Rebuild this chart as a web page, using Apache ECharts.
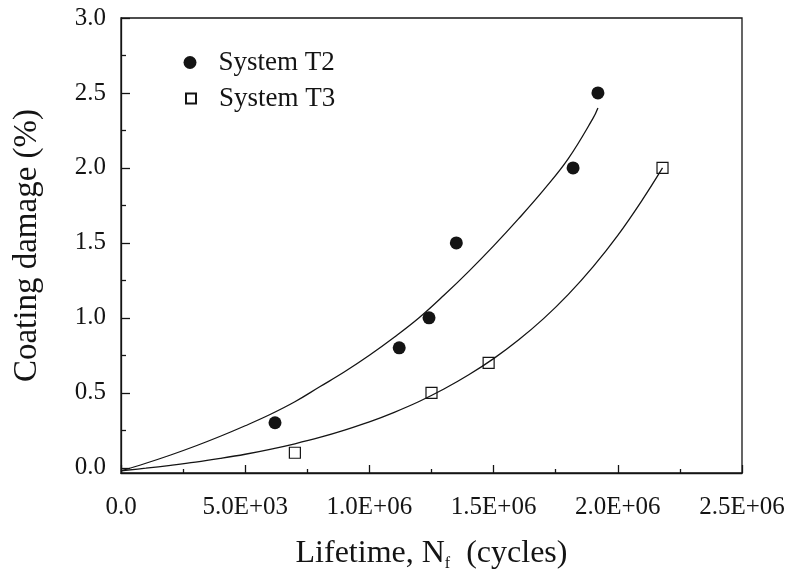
<!DOCTYPE html>
<html>
<head>
<meta charset="utf-8">
<script src="https://cdn.jsdelivr.net/npm/echarts@6/dist/echarts.min.js"></script>
<style>
  html, body { margin: 0; padding: 0; background: #ffffff; }
  #chart { width: 790px; height: 586px; }
</style>
</head>
<body>
<div id="chart"></div>
<script>
// Measured coating damage (%) against lifetime (cycles)
const t2Lifetime = [620000, 1120000, 1240000, 1350000, 1820000, 1920000];
const t2Damage   = [0.3, 0.8, 1.0, 1.5, 2.0, 2.5];
const t3Lifetime = [700000, 1250000, 1480000, 2180000];
const t3Damage   = [0.1, 0.5, 0.7, 2.0];

// Trend curves traced along each system
const t2CurveX = [0, 100000, 200000, 300000, 400000, 500000, 600000, 700000, 800000, 900000,
                  1000000, 1100000, 1200000, 1300000, 1400000, 1500000, 1600000, 1700000, 1800000, 1900000, 1920000];
const t2CurveY = [-0.02, 0.03, 0.085, 0.145, 0.21, 0.28, 0.355, 0.44, 0.54, 0.64,
                  0.75, 0.87, 1.00, 1.15, 1.31, 1.48, 1.66, 1.85, 2.06, 2.33, 2.40];
const t3CurveX = [0, 100000, 200000, 300000, 400000, 500000, 600000, 700000, 800000, 900000, 1000000,
                  1100000, 1200000, 1300000, 1400000, 1500000, 1600000, 1700000, 1800000, 1900000, 2000000, 2100000, 2180000];
const t3CurveY = [-0.02, -0.003, 0.016, 0.037, 0.062, 0.090, 0.123, 0.160, 0.202, 0.251, 0.306,
                  0.370, 0.442, 0.525, 0.620, 0.728, 0.852, 0.993, 1.155, 1.34, 1.55, 1.79, 2.00];

// Axis tick labels
const xTickLabels = ['0.0', '5.0E+03', '1.0E+06', '1.5E+06', '2.0E+06', '2.5E+06'];
const yTickValues = [0, 0.5, 1.0, 1.5, 2.0, 2.5, 3.0];
const yTickLabels = ['0.0', '0.5', '1.0', '1.5', '2.0', '2.5', '3.0'];
const yMinorValues = [0.25, 0.75, 1.25, 1.75, 2.25, 2.75];

const FONT = '"Liberation Serif", "DejaVu Serif", serif';
const INK = '#141414';

const zip = (xs, ys) => xs.map((x, i) => [x, ys[i]]);

const chart = echarts.init(document.getElementById('chart'), null, { renderer: 'canvas' });

const axisLineStyle = { color: INK, width: 1.3 };

chart.setOption({
  animation: false,
  backgroundColor: '#ffffff',
  grid: {
    left: 121, right: 48, top: 18, bottom: 113,
    show: true, borderColor: INK, borderWidth: 1.3, backgroundColor: 'transparent'
  },
  legend: [
    {
      data: ['System T2'], left: 183.5, top: 49, padding: 0,
      itemWidth: 13, itemHeight: 13,
      textStyle: { fontFamily: FONT, fontSize: 27, color: INK, padding: [0, 0, 0, 17] }
    },
    {
      data: ['System T3'], left: 185, top: 85, padding: 0,
      itemWidth: 10, itemHeight: 10,
      textStyle: { fontFamily: FONT, fontSize: 27, color: INK, padding: [0, 0, 0, 18] }
    }
  ],
  xAxis: {
    type: 'value', min: 0, max: 2500000, interval: 500000,
    axisLine: { show: true, onZero: false, lineStyle: axisLineStyle },
    axisTick: { show: true, inside: true, length: 8, lineStyle: axisLineStyle },
    minorTick: { show: true, splitNumber: 2, length: 4, lineStyle: axisLineStyle },
    splitLine: { show: false },
    axisLabel: {
      margin: 22, fontFamily: FONT, fontSize: 25, color: INK,
      formatter: (v) => xTickLabels[Math.round(v / 500000)]
    },
    name: 'Lifetime, N{sub|f}  (cycles)',
    nameLocation: 'middle', nameGap: 65,
    nameTextStyle: {
      fontFamily: FONT, fontSize: 32, color: INK,
      rich: { sub: { fontFamily: FONT, fontSize: 16, color: INK, verticalAlign: 'bottom', padding: [0, 0, -2, 0] } }
    }
  },
  yAxis: [
    {
      type: 'value', min: -0.035, max: 3, position: 'left',
      axisLine: { show: true, onZero: false, lineStyle: axisLineStyle },
      axisTick: { show: true, inside: true, length: 9, customValues: yTickValues, lineStyle: axisLineStyle },
      splitLine: { show: false },
      axisLabel: {
        margin: 15, fontFamily: FONT, fontSize: 25, color: INK,
        customValues: yTickValues,
        formatter: (v) => yTickLabels[Math.round(v / 0.5)]
      },
      name: 'Coating damage (%)',
      nameLocation: 'middle', nameGap: 77,
      nameTextStyle: { fontFamily: FONT, fontSize: 33, color: INK }
    },
    {
      type: 'value', min: -0.035, max: 3, position: 'left',
      axisLine: { show: false, onZero: false },
      axisTick: { show: true, inside: true, length: 5, customValues: yMinorValues, lineStyle: axisLineStyle },
      axisLabel: { show: false },
      splitLine: { show: false }
    }
  ],
  series: [
    {
      name: 'T2 trend', type: 'line', smooth: 0.4, showSymbol: false, silent: true,
      data: zip(t2CurveX, t2CurveY),
      lineStyle: { color: INK, width: 1.3 }, z: 2
    },
    {
      name: 'T3 trend', type: 'line', smooth: 0.4, showSymbol: false, silent: true,
      data: zip(t3CurveX, t3CurveY),
      lineStyle: { color: INK, width: 1.3 }, z: 2
    },
    {
      name: 'System T2', type: 'scatter', symbol: 'circle', symbolSize: 13,
      data: zip(t2Lifetime, t2Damage),
      itemStyle: { color: INK, opacity: 1 }, z: 3
    },
    {
      name: 'System T3', type: 'scatter', symbol: 'rect', symbolSize: 11,
      data: zip(t3Lifetime, t3Damage),
      itemStyle: { color: 'rgba(255,255,255,0)', borderColor: INK, borderWidth: 1.2, opacity: 1 }, z: 3
    }
  ]
});
</script>
</body>
</html>
